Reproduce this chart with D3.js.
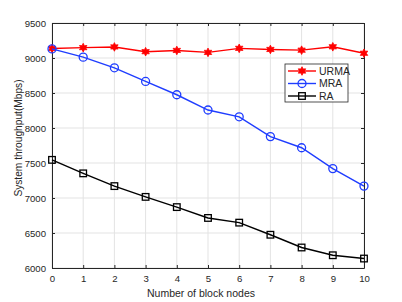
<!DOCTYPE html>
<html>
<head>
<meta charset="utf-8">
<script src="https://cdn.jsdelivr.net/npm/d3@7"></script>
<style>
  body { margin: 0; background: #fff; }
  svg { display: block; font-family: "Liberation Sans", Arial, sans-serif; }
</style>
</head>
<body>
<div id="chart"></div>
<script>
// data
const nodes = [0, 1, 2, 3, 4, 5, 6, 7, 8, 9, 10];
const urma = [9135, 9148, 9158, 9090, 9108, 9080, 9138, 9122, 9112, 9160, 9068];
const mra = [9130, 9012, 8860, 8665, 8475, 8257, 8160, 7877, 7718, 7420, 7170];
const ra = [7545, 7352, 7170, 7016, 6870, 6715, 6648, 6475, 6293, 6182, 6135];
const yTicks = [6000, 6500, 7000, 7500, 8000, 8500, 9000, 9500];

const series = [
	{ name: 'URMA', values: urma, color: '#ff0000', marker: 'star' },
	{ name: 'MRA', values: mra, color: '#1f3dff', marker: 'circle' },
	{ name: 'RA', values: ra, color: '#000000', marker: 'square' }
];

const W = 402, H = 302;
const M = { left: 52, right: 38, top: 23, bottom: 34 };
const AXIS_COLOR = '#262626';
const GRID_COLOR = '#e3e3e3';
const TICK_FONT = 9.6;

const svg = d3.select('#chart').append('svg')
	.attr('width', W)
	.attr('height', H);

const x = d3.scaleLinear().domain([0, 10]).range([M.left, W - M.right]);
const y = d3.scaleLinear().domain([6000, 9500]).range([H - M.bottom, M.top]);

// grid
const grid = svg.append('g').attr('class', 'grid');
grid.selectAll('line.gx')
	.data(nodes)
	.join('line')
	.attr('class', 'gx')
	.attr('x1', d => x(d)).attr('x2', d => x(d))
	.attr('y1', y(6000)).attr('y2', y(9500))
	.attr('stroke', GRID_COLOR).attr('stroke-width', 1);
grid.selectAll('line.gy')
	.data(yTicks)
	.join('line')
	.attr('class', 'gy')
	.attr('x1', x(0)).attr('x2', x(10))
	.attr('y1', d => y(d)).attr('y2', d => y(d))
	.attr('stroke', GRID_COLOR).attr('stroke-width', 1);

// axes (box with inner ticks on all sides)
function styleAxis(g){
	g.select('.domain').attr('stroke', AXIS_COLOR);
	g.selectAll('.tick line').attr('stroke', AXIS_COLOR);
	g.selectAll('.tick text')
		.attr('fill', AXIS_COLOR)
		.attr('font-size', TICK_FONT);
}

svg.append('g')
	.attr('transform', `translate(0,${y(6000)})`)
	.call(d3.axisBottom(x).tickValues(nodes).tickSizeInner(-3).tickSizeOuter(0).tickPadding(7).tickFormat(d3.format('d')))
	.call(styleAxis);

svg.append('g')
	.attr('transform', `translate(0,${y(9500)})`)
	.call(d3.axisTop(x).tickValues(nodes).tickSizeInner(-3).tickSizeOuter(0).tickFormat(''))
	.call(styleAxis);

svg.append('g')
	.attr('transform', `translate(${x(0)},0)`)
	.call(d3.axisLeft(y).tickValues(yTicks).tickSizeInner(-3).tickSizeOuter(0).tickPadding(6).tickFormat(d3.format('d')))
	.call(styleAxis);

svg.append('g')
	.attr('transform', `translate(${x(10)},0)`)
	.call(d3.axisRight(y).tickValues(yTicks).tickSizeInner(-3).tickSizeOuter(0).tickFormat(''))
	.call(styleAxis);

// markers
const starPath = (() => {
	const pts = [];
	for (let i = 0; i < 12; i++) {
		const a = -Math.PI / 2 + i * Math.PI / 6;
		const r = i % 2 === 0 ? 4.3 : 2.3;
		pts.push([r * Math.cos(a), r * Math.sin(a)]);
	}
	return 'M' + pts.map(p => p.join(',')).join('L') + 'Z';
})();

function drawMarker(sel, s){
	if (s.marker === 'star') {
		sel.append('path')
			.attr('d', starPath)
			.attr('fill', s.color)
			.attr('stroke', s.color)
			.attr('stroke-width', 0.8);
	} else if (s.marker === 'circle') {
		sel.append('circle')
			.attr('r', 4)
			.attr('fill', 'none')
			.attr('stroke', s.color)
			.attr('stroke-width', 1.3);
	} else {
		sel.append('rect')
			.attr('x', -3.3).attr('y', -3.3)
			.attr('width', 6.6).attr('height', 6.6)
			.attr('fill', 'none')
			.attr('stroke', s.color)
			.attr('stroke-width', 1.3);
	}
}

const line = d3.line()
	.x((d, i) => x(nodes[i]))
	.y(d => y(d));

// plotted in order, so MRA's first circle sits over the red star
series.forEach(s => {
	const g = svg.append('g').attr('class', 'series');
	g.append('path')
		.attr('d', line(s.values))
		.attr('fill', 'none')
		.attr('stroke', s.color)
		.attr('stroke-width', 1.4);
	g.selectAll('g.pt')
		.data(s.values)
		.join('g')
		.attr('class', 'pt')
		.attr('transform', (d, i) => `translate(${x(nodes[i])},${y(d)})`)
		.each(function(){ drawMarker(d3.select(this), s); });
});

// legend
const legend = svg.append('g').attr('transform', 'translate(285,64)');
legend.append('rect')
	.attr('width', 63).attr('height', 38)
	.attr('fill', '#fff')
	.attr('stroke', AXIS_COLOR)
	.attr('stroke-width', 0.8);
series.forEach((s, i) => {
	const ly = 7 + i * 12.5;
	const item = legend.append('g');
	item.append('line')
		.attr('x1', 3).attr('x2', 31)
		.attr('y1', ly).attr('y2', ly)
		.attr('stroke', s.color)
		.attr('stroke-width', 1.4);
	const mk = item.append('g').attr('transform', `translate(17,${ly})`);
	drawMarker(mk, s);
	item.append('text')
		.attr('x', 34).attr('y', ly + 3.8)
		.attr('font-size', 10.5)
		.attr('fill', AXIS_COLOR)
		.text(s.name);
});

// axis titles
svg.append('text')
	.attr('x', 201)
	.attr('y', 297)
	.attr('text-anchor', 'middle')
	.attr('font-size', 10.5)
	.attr('fill', AXIS_COLOR)
	.text('Number of block nodes');

svg.append('text')
	.attr('transform', `translate(22,138) rotate(-90)`)
	.attr('text-anchor', 'middle')
	.attr('font-size', 10.2)
	.attr('fill', AXIS_COLOR)
	.text('System throughput(Mbps)');
</script>
</body>
</html>
